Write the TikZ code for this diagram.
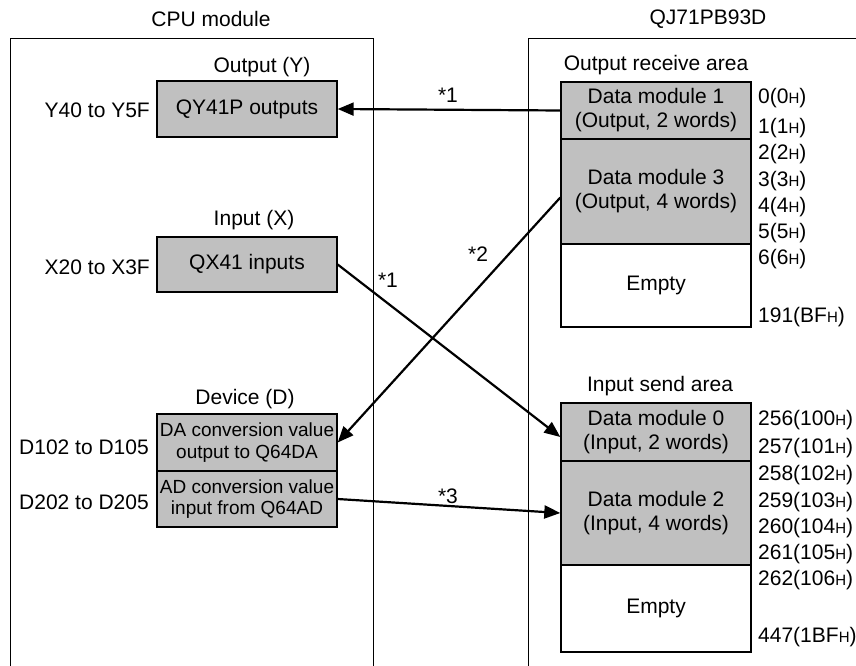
\documentclass[tikz,border=0pt]{standalone}
\usepackage{fontspec}
\setmainfont{Liberation Sans}
\usetikzlibrary{arrows.meta,positioning}
\definecolor{boxgray}{HTML}{C0C0C0}
\newcommand\hx{{\fontsize{15}{15}\selectfont H}}

\begin{document}
\begin{tikzpicture}[
    x=1pt, y=-1pt,
    font=\fontsize{21}{24}\selectfont,
    area/.style={draw, line width=1pt},
    mem/.style={draw, line width=1.4pt, fill=boxgray, minimum width=180pt, align=center, inner sep=0pt},
    dev/.style={mem, font=\fontsize{19}{21.5}\selectfont},
    memw/.style={mem, fill=white},
    addr/.style={anchor=west, inner sep=0pt},
    lbl/.style={inner sep=0pt},
    arr/.style={-{Triangle[length=16pt,width=13pt]}, line width=2.2pt}
]
\useasboundingbox (0,0) rectangle (856,666);

% --- CPU module ---
\node[lbl] (cpu) at (211,19) {CPU module};
\draw[area] (10,680) -- (10,39) -- (373,39) -- (373,680);

\node[lbl] (outy) at (262,67) {Output (Y)};
\node[mem, minimum height=56pt] (qy) at (247,109) {QY41P outputs};
\node[lbl, anchor=east] (yr) at (150,110) {Y40 to Y5F};

\node[lbl] (inx) at (254,220) {Input (X)};
\node[mem, minimum height=55pt] (qx) at (247,264.5) {QX41 inputs};
\node[lbl, anchor=east] (xr) at (150,267) {X20 to X3F};

\node[lbl] (devd) at (245,399) {Device (D)};
\node[dev, minimum height=57pt] (da) at (247,442.5) {DA conversion value\\output to Q64DA};
\node[dev, minimum height=56pt] (ad) at (247,499) {AD conversion value\\input from Q64AD};
\node[lbl, anchor=east] (dr1) at (149,447) {D102 to D105};
\node[lbl, anchor=east] (dr2) at (149,502) {D202 to D205};

% --- QJ71PB93D ---
\node[lbl] (qj) at (708,19) {QJ71PB93D};
\draw[area] (528,680) -- (528,39) -- (880,39);

\node[lbl] (ora) at (656,65) {Output receive area};
\node[mem, minimum width=190pt, minimum height=57pt] (dm1) at (656,110.5) {Data module 1\\(Output, 2 words)};
\node[mem, minimum width=190pt, minimum height=105pt] (dm3) at (656,191.5) {Data module 3\\(Output, 4 words)};
\node[memw, minimum width=190pt, minimum height=83pt] (oe) at (656,285.5) {Empty};

\node[addr] (o0) at (758,98) {0(0\hx)};
\node[addr] (o1) at (758,128) {1(1\hx)};
\node[addr] (o2) at (758,154) {2(2\hx)};
\node[addr] (o3) at (758,181) {3(3\hx)};
\node[addr] (o4) at (758,207) {4(4\hx)};
\node[addr] (o5) at (758,233) {5(5\hx)};
\node[addr] (o6) at (758,259) {6(6\hx)};
\node[addr] (o191) at (758,317) {191(BF\hx)};

\node[lbl] (isa) at (660,386) {Input send area};
\node[mem, minimum width=190pt, minimum height=58pt] (dm0) at (656,432) {Data module 0\\(Input, 2 words)};
\node[mem, minimum width=190pt, minimum height=104pt] (dm2) at (656,513) {Data module 2\\(Input, 4 words)};
\node[memw, minimum width=190pt, minimum height=87pt] (ie) at (656,608.5) {Empty};

\node[addr] (i256) at (758,420) {256(100\hx)};
\node[addr] (i257) at (758,448) {257(101\hx)};
\node[addr] (i258) at (758,475) {258(102\hx)};
\node[addr] (i259) at (758,502) {259(103\hx)};
\node[addr] (i260) at (758,528) {260(104\hx)};
\node[addr] (i261) at (758,554) {261(105\hx)};
\node[addr] (i262) at (758,580) {262(106\hx)};
\node[addr] (i447) at (758,637) {447(1BF\hx)};

% --- transfers ---
\draw[arr] (dm1.west) -- (qy.east);
\draw[arr] ([yshift=-6pt]dm3.west) -- (da.east);
\draw[arr] (qx.east) -- ([yshift=-5pt]dm0.west);
\draw[arr] (ad.east) -- (dm2.west);

\node[lbl] (n1a) at (448,95) {*1};
\node[lbl] (n2) at (478,254) {*2};
\node[lbl] (n1b) at (388,280) {*1};
\node[lbl] (n3) at (448,496) {*3};
\end{tikzpicture}
\end{document}
